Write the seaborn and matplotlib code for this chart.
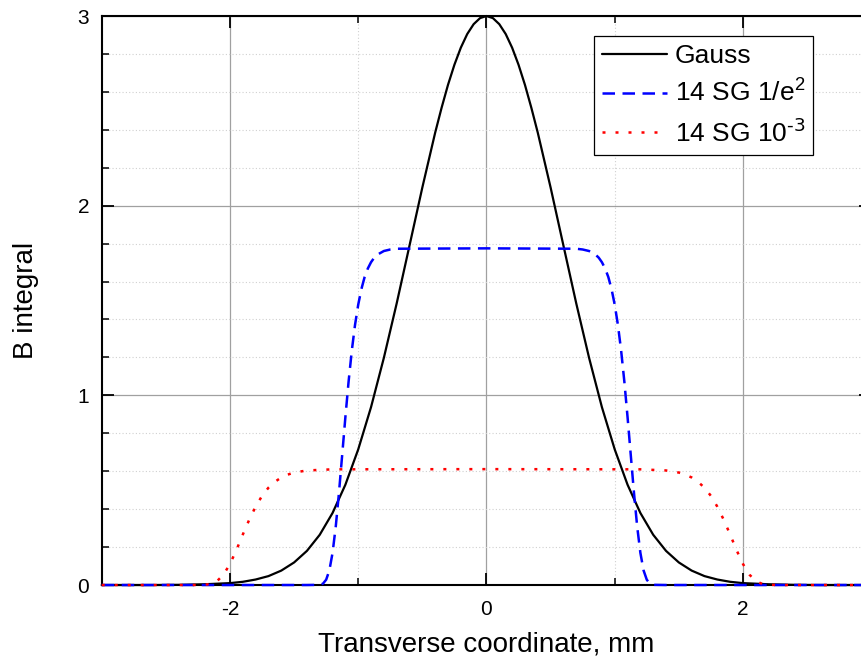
import numpy as np
import pandas as pd
import matplotlib
matplotlib.use("Agg")
import matplotlib.pyplot as plt
from matplotlib.ticker import MultipleLocator
import seaborn as sns

# стиль
sns.set_theme(style="ticks")
plt.rcParams['font.family'] = ['Liberation Sans', 'DejaVu Sans']
plt.rcParams['mathtext.default'] = 'regular'
plt.rcParams['axes.unicode_minus'] = False
for key in ['text.color', 'axes.labelcolor', 'xtick.color', 'ytick.color']:
    plt.rcParams[key] = 'black'

# =========================
# Данные
# =========================
gauss_x = [-3.0, -2.6, -2.4, -2.2, -2.0, -1.9, -1.8, -1.7, -1.6, -1.5, -1.4, -1.3,
           -1.2, -1.1, -1.0, -0.9, -0.8, -0.7, -0.6, -0.5, -0.4, -0.35, -0.3, -0.25,
           -0.2, -0.15, -0.1, -0.05, 0.0, 0.05, 0.1, 0.15, 0.2, 0.25, 0.3, 0.35, 0.4,
           0.5, 0.6, 0.7, 0.8, 0.9, 1.0, 1.1, 1.2, 1.3, 1.4, 1.5, 1.6, 1.7, 1.8, 1.9,
           2.0, 2.2, 2.4, 2.6, 3.0]
gauss_y = [0.0, 0.0, 0.001, 0.004, 0.010, 0.017, 0.029, 0.047, 0.076, 0.119, 0.180, 0.265,
           0.380, 0.529, 0.715, 0.938, 1.198, 1.485, 1.790, 2.096, 2.385, 2.516, 2.637, 2.743,
           2.833, 2.905, 2.957, 2.989, 3.000, 2.989, 2.957, 2.905, 2.833, 2.743, 2.637, 2.516, 2.385,
           2.096, 1.790, 1.485, 1.198, 0.938, 0.715, 0.529, 0.380, 0.265, 0.180, 0.119, 0.076, 0.047, 0.029, 0.017,
           0.010, 0.004, 0.001, 0.0, 0.0]

sg_e2_x = [-3.0, -1.4, -1.3, -1.275, -1.25, -1.225, -1.2, -1.175, -1.15, -1.125, -1.1, -1.075,
           -1.05, -1.025, -1.0, -0.975, -0.95, -0.925, -0.9, -0.875, -0.85, -0.8, -0.75, -0.7,
           0.0, 0.7, 0.75, 0.8, 0.85, 0.875, 0.9, 0.925, 0.95, 0.975, 1.0, 1.025, 1.05, 1.075,
           1.1, 1.125, 1.15, 1.175, 1.2, 1.225, 1.25, 1.275, 1.3, 1.4, 3.0]
sg_e2_y = [0.0, 0.0, 0.001, 0.007, 0.028, 0.077, 0.170, 0.309, 0.487, 0.686, 0.886, 1.073,
           1.236, 1.371, 1.478, 1.561, 1.624, 1.669, 1.702, 1.726, 1.742, 1.761, 1.769, 1.773,
           1.775, 1.773, 1.769, 1.761, 1.742, 1.726, 1.702, 1.669, 1.624, 1.561, 1.478, 1.371, 1.236, 1.073,
           0.886, 0.686, 0.487, 0.309, 0.170, 0.077, 0.028, 0.007, 0.001, 0.0, 0.0]

sg_3_x = [-3.0, -2.3, -2.2, -2.15, -2.1, -2.05, -2.0, -1.95, -1.9, -1.85, -1.8, -1.75,
          -1.7, -1.65, -1.6, -1.55, -1.5, -1.4, -1.2, 0.0, 1.2, 1.4, 1.5, 1.55, 1.6, 1.65,
          1.7, 1.75, 1.8, 1.85, 1.9, 1.95, 2.0, 2.05, 2.1, 2.15, 2.2, 2.3, 3.0]
sg_3_y = [0.0, 0.0, 0.001, 0.006, 0.021, 0.055, 0.111, 0.184, 0.266, 0.344, 0.413, 0.470,
          0.513, 0.544, 0.567, 0.582, 0.593, 0.604, 0.610, 0.611, 0.610, 0.604, 0.593, 0.582, 0.567, 0.544,
          0.513, 0.470, 0.413, 0.344, 0.266, 0.184, 0.111, 0.055, 0.021, 0.006, 0.001, 0.0, 0.0]

labels = ["Gauss", "14 SG 1/e$^{2}$", "14 SG 10$^{\\text{-3}}$"]
x_ticks = [-2, 0, 2]
y_ticks = [0, 1, 2, 3]

# =========================
# График
# =========================
fig = plt.figure(figsize=(8.62, 6.67), dpi=100)
ax = fig.add_axes([0.1180, 0.1229, 0.8927, 0.8531])

sns.lineplot(x=gauss_x, y=gauss_y, ax=ax, color="black", lw=1.6, sort=False,
             estimator=None, label=labels[0], zorder=3, clip_on=False)
sns.lineplot(x=sg_e2_x, y=sg_e2_y, ax=ax, color="#0000ff", lw=1.8, sort=False,
             estimator=None, label=labels[1], zorder=3, clip_on=False,
             linestyle=(0, (5, 3)))
sns.lineplot(x=sg_3_x, y=sg_3_y, ax=ax, color="#ff0000", lw=1.8, sort=False,
             estimator=None, label=labels[2], zorder=3, clip_on=False,
             linestyle=(0, (1.2, 4.0)))

ax.set_xlim(-3, 3)
ax.set_ylim(0, 3)
ax.set_xticks(x_ticks)
ax.set_yticks(y_ticks)
ax.xaxis.set_minor_locator(MultipleLocator(1))
ax.yaxis.set_minor_locator(MultipleLocator(0.2))

ax.grid(which="major", color="#a0a0a0", lw=0.9, ls="-")
ax.grid(which="minor", color="#d0d0d0", lw=0.8, ls=(0, (1, 2)))
ax.set_axisbelow(True)

for s in ax.spines.values():
    s.set_linewidth(1.5)
    s.set_color("black")

ax.tick_params(which="both", direction="in", top=True, right=True, color="black")
ax.tick_params(which="major", length=8.5, width=1.3, labelsize=15)
ax.tick_params(axis="y", which="major", pad=9)
ax.tick_params(axis="x", which="major", pad=11)
ax.tick_params(which="minor", length=5, width=1.1)

ax.set_xlabel("Transverse coordinate, mm", fontsize=20, labelpad=9)
ax.set_ylabel("B integral", fontsize=20, labelpad=28)

leg = ax.legend(loc="upper left", bbox_to_anchor=(0.6397, 0.9649), borderaxespad=0,
                fontsize=19, frameon=True, fancybox=False, framealpha=1,
                edgecolor="black", handlelength=2.46, handletextpad=0.3,
                labelspacing=0.45, borderpad=0.3)
leg.get_frame().set_linewidth(0.9)

fig.savefig("out.png", dpi=100)
plt.close()
